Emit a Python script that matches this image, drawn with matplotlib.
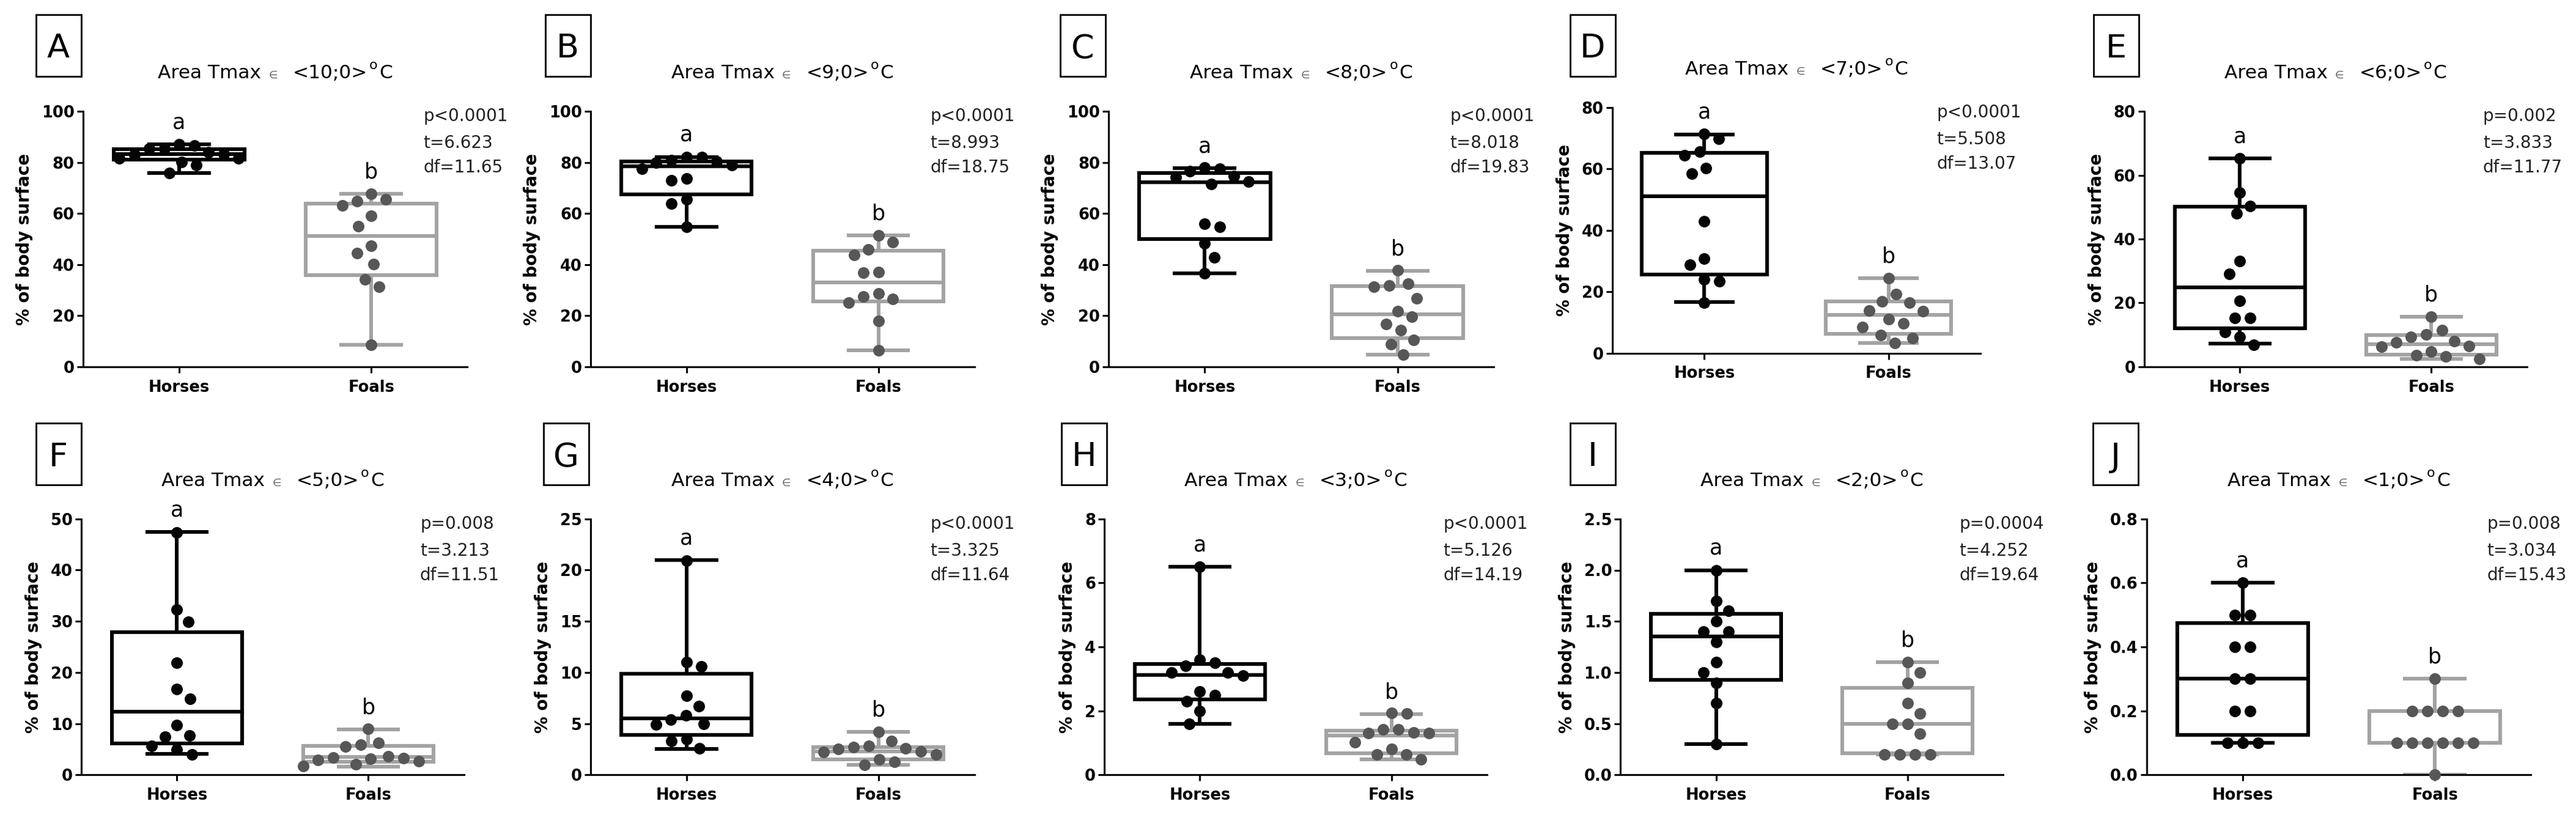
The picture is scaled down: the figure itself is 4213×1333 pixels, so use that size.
import numpy as np
import matplotlib
matplotlib.use("Agg")
import matplotlib.pyplot as plt
from matplotlib.patches import Rectangle

plt.rcParams['font.family'] = ['DejaVu Sans']

W, H, DPI = 4213, 1333, 100

# ---------------- data ----------------
panel_letters = ["A", "B", "C", "D", "E", "F", "G", "H", "I", "J"]
tmax_upper = [10, 9, 8, 7, 6, 5, 4, 3, 2, 1]
group_names = ["Horses", "Foals"]
group_letters = ["a", "b"]
y_max = [100, 100, 100, 80, 80, 50, 25, 8, 2.5, 0.8]
y_step = [20, 20, 20, 20, 20, 10, 5, 2, 0.5, 0.2]
y_decimals = [0, 0, 0, 0, 0, 0, 0, 0, 1, 1]

horses_A = [87.2, 86.7, 85.4, 85.4, 84.0, 83.3, 83.0, 81.7, 81.7, 80.1, 79.1, 75.8]
foals_A = [67.8, 65.5, 64.8, 63.3, 59.0, 55.0, 47.4, 44.4, 40.3, 34.3, 31.3, 8.6]
horses_B = [82.2, 82.0, 81.0, 80.5, 80.0, 79.1, 77.6, 73.8, 73.1, 65.5, 64.0, 54.9]
foals_B = [51.4, 48.9, 45.9, 43.8, 37.0, 36.8, 28.7, 27.5, 26.5, 25.0, 18.0, 6.4]
horses_C = [78.1, 77.6, 76.6, 74.6, 74.1, 72.6, 71.6, 56.1, 54.9, 48.4, 42.8, 36.6]
foals_C = [37.8, 32.5, 31.8, 31.3, 26.7, 21.7, 19.5, 16.8, 14.3, 10.4, 8.8, 4.7]
horses_D = [71.4, 69.8, 65.7, 64.5, 60.3, 58.4, 42.9, 30.8, 28.8, 24.1, 23.5, 16.5]
foals_D = [24.5, 19.3, 16.9, 16.5, 13.8, 13.6, 11.1, 9.6, 8.4, 5.9, 4.8, 3.3]
horses_E = [65.3, 54.6, 50.4, 48.0, 33.1, 29.0, 20.7, 15.3, 15.2, 10.9, 9.3, 6.9]
foals_E = [15.6, 11.5, 10.2, 9.3, 8.1, 7.7, 6.5, 6.2, 4.8, 3.6, 3.2, 2.4]
horses_F = [47.4, 32.3, 29.9, 21.9, 16.8, 14.9, 9.7, 7.7, 7.5, 5.6, 4.9, 4.0]
foals_F = [9.0, 6.3, 5.9, 5.5, 3.6, 3.4, 3.3, 3.1, 2.9, 2.7, 2.1, 1.7]
horses_G = [20.9, 11.0, 10.6, 7.7, 6.7, 5.8, 5.4, 5.0, 4.9, 3.5, 3.3, 2.6]
foals_G = [4.2, 3.3, 2.8, 2.7, 2.6, 2.5, 2.3, 2.2, 2.0, 1.5, 1.3, 1.0]
horses_H = [6.5, 3.6, 3.5, 3.4, 3.2, 3.2, 3.1, 2.6, 2.5, 2.3, 2.0, 1.6]
foals_H = [1.93, 1.91, 1.42, 1.42, 1.33, 1.31, 1.31, 1.01, 0.80, 0.63, 0.63, 0.49]
horses_I = [2.0, 1.7, 1.6, 1.5, 1.4, 1.4, 1.3, 1.1, 1.0, 0.9, 0.7, 0.3]
foals_I = [1.1, 1.0, 0.9, 0.7, 0.6, 0.5, 0.5, 0.4, 0.2, 0.2, 0.2, 0.2]
horses_J = [0.6, 0.5, 0.5, 0.4, 0.4, 0.3, 0.3, 0.2, 0.2, 0.1, 0.1, 0.1]
foals_J = [0.3, 0.2, 0.2, 0.2, 0.2, 0.1, 0.1, 0.1, 0.1, 0.1, 0.1, 0.0]

# box statistics: [min, Q1, median, Q3, max]
box_horses_A = [75.8, 81.2, 83.2, 85.2, 87.2]
box_foals_A = [8.6, 35.8, 51.3, 64.0, 67.8]
box_horses_B = [54.9, 67.5, 78.6, 80.4, 82.2]
box_foals_B = [6.4, 25.5, 33.0, 45.4, 51.4]
box_horses_C = [36.6, 50.1, 72.3, 75.9, 77.8]
box_foals_C = [4.7, 11.2, 20.5, 31.5, 37.5]
box_horses_D = [16.6, 25.5, 51.0, 65.3, 71.3]
box_foals_D = [3.3, 6.3, 12.5, 16.9, 24.4]
box_horses_E = [7.2, 12.1, 24.8, 50.2, 65.3]
box_foals_E = [2.4, 3.7, 7.0, 9.9, 15.6]
box_horses_F = [4.1, 6.1, 12.4, 27.9, 47.5]
box_foals_F = [1.6, 2.6, 3.5, 5.6, 8.9]
box_horses_G = [2.5, 3.9, 5.5, 9.9, 21.0]
box_foals_G = [1.0, 1.5, 2.3, 2.7, 4.2]
box_horses_H = [1.6, 2.36, 3.12, 3.46, 6.5]
box_foals_H = [0.48, 0.68, 1.23, 1.39, 1.9]
box_horses_I = [0.3, 0.93, 1.35, 1.57, 2.0]
box_foals_I = [0.2, 0.21, 0.5, 0.85, 1.1]
box_horses_J = [0.1, 0.125, 0.3, 0.475, 0.6]
box_foals_J = [0.0, 0.1, 0.1, 0.2, 0.3]

p_texts = ["p<0.0001", "p<0.0001", "p<0.0001", "p<0.0001", "p=0.002",
           "p=0.008", "p<0.0001", "p<0.0001", "p=0.0004", "p=0.008"]
t_values = ["6.623", "8.993", "8.018", "5.508", "3.833",
            "3.213", "3.325", "5.126", "4.252", "3.034"]
df_values = ["11.65", "18.75", "19.83", "13.07", "11.77",
             "11.51", "11.64", "14.19", "19.64", "15.43"]

horses_points = [horses_A, horses_B, horses_C, horses_D, horses_E,
                 horses_F, horses_G, horses_H, horses_I, horses_J]
foals_points = [foals_A, foals_B, foals_C, foals_D, foals_E,
                foals_F, foals_G, foals_H, foals_I, foals_J]
horses_boxes = [box_horses_A, box_horses_B, box_horses_C, box_horses_D, box_horses_E,
                box_horses_F, box_horses_G, box_horses_H, box_horses_I, box_horses_J]
foals_boxes = [box_foals_A, box_foals_B, box_foals_C, box_foals_D, box_foals_E,
               box_foals_F, box_foals_G, box_foals_H, box_foals_I, box_foals_J]

# ---------------- layout (pixels, from top-left) ----------------
axes_left = [135.5, 965.8, 1812.8, 2636.6, 3506.7, 132.8, 965.8, 1805.8, 2650.1, 3510.5]
axes_right = [764.4, 1593.5, 2443.3, 3239.4, 4132.8, 759.0, 1593.5, 2432.4, 3276.2, 4139.3]
axes_top = [182.3, 182.3, 182.3, 175.9, 182.3, 848.8, 848.8, 848.8, 848.8, 848.8]
axes_bottom = [599.8, 599.8, 599.8, 577.5, 599.8, 1267.3, 1267.3, 1267.3, 1267.3, 1267.3]
letter_box_left = [58.5, 891.5, 1734, 2567.7, 3424, 58.5, 889, 1736, 2568, 3423]
letter_box_top = [24, 24, 24, 24, 24, 692, 692, 692, 692, 692]
LB_W, LB_H = 74, 101

colors_line = ["#000000", "#a3a3a3"]
colors_dot = ["#050505", "#575757"]

DOT_PX = 19.0
DOT_MS = DOT_PX * 72 / DPI
SEP_X, SEP_Y = 25.0, 30.0
LW = 4.3

fig = plt.figure(figsize=(W / DPI, H / DPI), dpi=DPI)
fig.patch.set_facecolor("white")
renderer = fig.canvas.get_renderer()


def fx(x):
    return x / W


def fy(y):
    return 1 - y / H


def swarm(vals, px_per_y, dw, dh):
    vals = np.asarray(vals, dtype=float)
    order = np.argsort(-vals, kind="stable")
    placed = []
    offs = np.zeros(len(vals))
    last_sign = 1
    for idx in order:
        y = vals[idx] * px_per_y
        near = [(px, py) for px, py in placed if abs(py - y) < dh]
        cands = [0.0]
        for px, py in near:
            dx = dw * np.sqrt(max(0.0, 1 - ((py - y) / dh) ** 2))
            cands += [px + dx, px - dx]
        cands = sorted(set(np.round(cands, 6)), key=lambda c: (abs(c), -last_sign * np.sign(c)))
        chosen = cands[-1]
        for c in cands:
            ok = all(((c - px) / dw) ** 2 + ((y - py) / dh) ** 2 >= 1 - 1e-6 for px, py in near)
            if ok:
                chosen = c
                break
        if chosen != 0:
            last_sign = np.sign(chosen)
        offs[idx] = chosen
        placed.append((chosen, y))
    # centre rows of exactly tied values (GraphPad-like symmetric rows)
    for v in np.unique(vals):
        idxs = np.where(vals == v)[0]
        if len(idxs) > 1:
            mean_off = offs[idxs].mean()
            others = [j for j in range(len(vals)) if j not in idxs
                      and abs(vals[j] - v) * px_per_y < dh]
            if not others:
                offs[idxs] -= mean_off
    return offs


for i in range(10):
    L, R, T, B = axes_left[i], axes_right[i], axes_top[i], axes_bottom[i]
    ax = fig.add_axes([fx(L), fy(B), (R - L) / W, (B - T) / H])
    ax.set_facecolor("none")
    ymax = y_max[i]
    ax.set_xlim(-0.5, 1.5)
    ax.set_ylim(0, ymax)
    px_per_x = (R - L) / 2.0
    px_per_y = (B - T) / ymax

    for g, (pts, bx) in enumerate([(horses_points[i], horses_boxes[i]),
                                     (foals_points[i], foals_boxes[i])]):
        c = colors_line[g]
        stats = [dict(whislo=bx[0], q1=bx[1], med=bx[2], q3=bx[3], whishi=bx[4], fliers=[])]
        ax.bxp(stats, positions=[g], widths=0.68, capwidths=0.33, showfliers=False,
               manage_ticks=False, patch_artist=True,
               boxprops=dict(facecolor="none", edgecolor=c, linewidth=LW, joinstyle="miter"),
               whiskerprops=dict(color=c, linewidth=LW, solid_capstyle="butt"),
               capprops=dict(color=c, linewidth=LW, solid_capstyle="butt"),
               medianprops=dict(color=c, linewidth=LW, solid_capstyle="butt"))
        offs = swarm(pts, px_per_y, SEP_X, SEP_Y)
        ax.plot(g + offs / px_per_x, pts, linestyle="none", marker="o",
                markersize=DOT_MS, color=colors_dot[g], markeredgewidth=0,
                clip_on=False, zorder=4)
        ax.annotate(group_letters[g], xy=(g, bx[4]), xytext=(0, 18.5),
                    textcoords="offset points", ha="center", va="baseline",
                    fontsize=25, annotation_clip=False)

    # axes styling
    for s in ["top", "right"]:
        ax.spines[s].set_visible(False)
    for s in ["left", "bottom"]:
        ax.spines[s].set_linewidth(2.2)
    ax.set_xticks([0, 1])
    ax.set_xticklabels(group_names)
    yt = np.arange(0, ymax + y_step[i] / 2, y_step[i])
    ax.set_yticks(yt)
    ax.set_yticklabels([f"{v:.{y_decimals[i]}f}" for v in yt])
    ax.tick_params(axis="both", width=2.2, length=7, direction="out", labelsize=18.5)
    ax.tick_params(axis="x", pad=8)
    ax.tick_params(axis="y", pad=3)
    for lbl in ax.get_xticklabels() + ax.get_yticklabels():
        lbl.set_fontweight("bold")
    ax.set_ylabel("% of body surface", fontsize=20, fontweight="bold", labelpad=10)

    # stats text
    for off, line in zip([16, 60, 100], [p_texts[i], "t=" + t_values[i], "df=" + df_values[i]]):
        fig.text(fx(R - 72), fy(T + off), line, fontsize=20, ha="left", va="baseline",
                 color="#222222")

    # title built from pieces
    base_y = T - 54
    pieces = [("Area Tmax", 22.5, 0, "#000000", 12),
              ("\u2208", 12, 0, "#555555", 25),
              (f"<{tmax_upper[i]};0>", 22.5, 0, "#000000", 3),
              ("o", 16, 15, "#000000", 2),
              ("C", 22.5, 0, "#000000", 0)]
    objs = []
    total = 0
    for s, size, raise_px, col, gap in pieces:
        t = fig.text(0, 0, s, fontsize=size, color=col, ha="left", va="baseline")
        w = t.get_window_extent(renderer).width
        objs.append((t, w, raise_px, gap))
        total += w + gap
    xcur = (L + R) / 2 - total / 2
    for t, w, raise_px, gap in objs:
        t.set_position((fx(xcur), fy(base_y - raise_px)))
        xcur += w + gap

    # panel letter box
    bl, bt = letter_box_left[i], letter_box_top[i]
    fig.patches.append(Rectangle((fx(bl), fy(bt + LB_H)), LB_W / W, LB_H / H,
                                 transform=fig.transFigure, fill=False,
                                 edgecolor="black", linewidth=2))
    fig.text(fx(bl + LB_W / 2), fy(bt + 70.5), panel_letters[i], fontsize=39,
             ha="center", va="baseline")

fig.savefig("out.png", dpi=DPI, facecolor="white")
